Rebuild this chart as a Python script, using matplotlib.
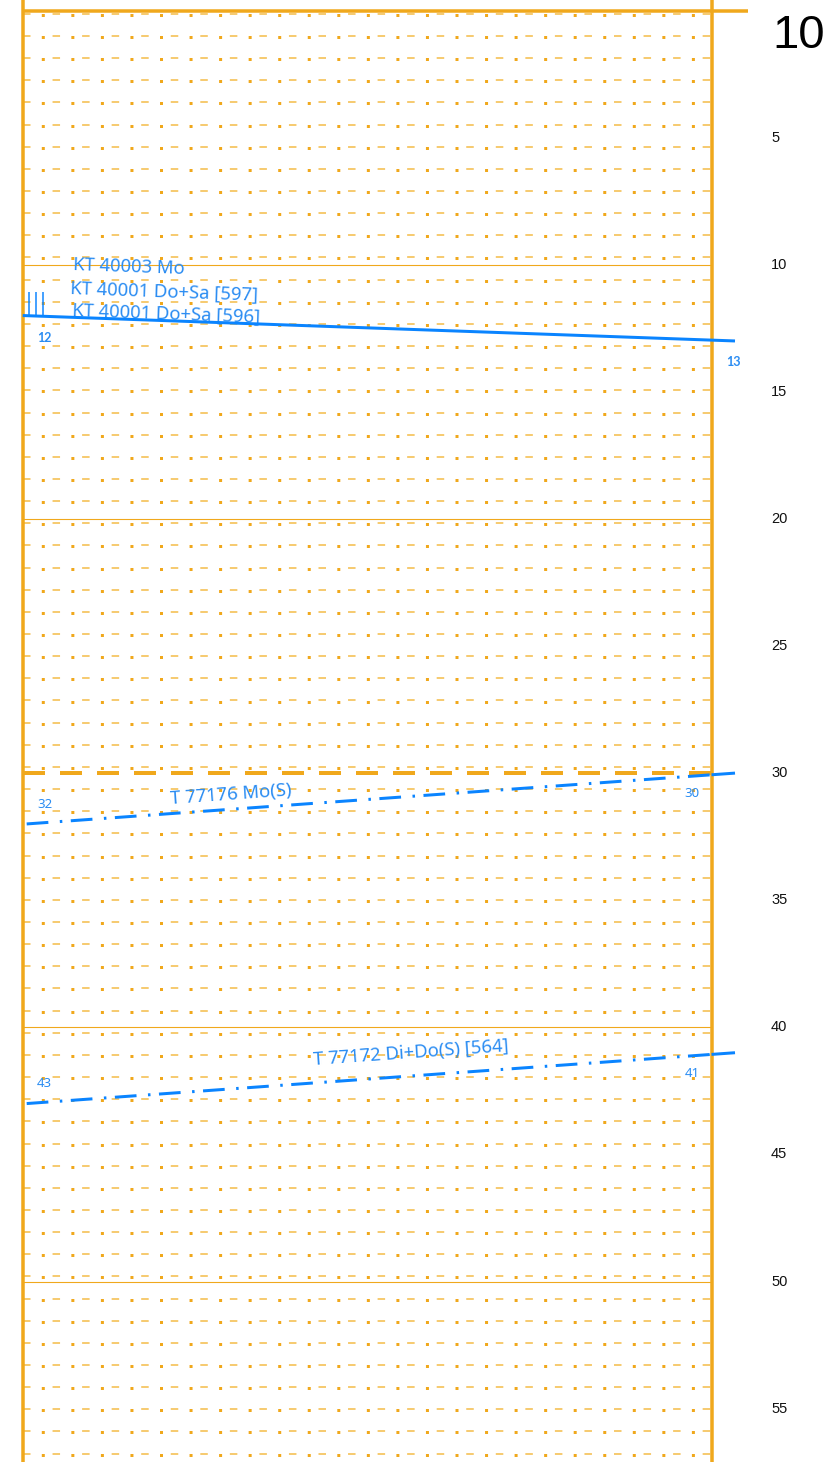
import numpy as np
import matplotlib.pyplot as plt

plt.rcParams['lines.scale_dashes'] = False

# --- data -------------------------------------------------------------
depth_ticks = [5, 10, 15, 20, 25, 30, 35, 40, 45, 50, 55]
scale_label = "10"
thin_bounds = [10, 20, 40, 50]
dashed_bounds = [30]

# pattern rows (lithology fill)
pattern_first = 0.13
pattern_step = 0.8714
pattern_last = 57.0

# contact lines: depth at left edge / right end
line_depth_left = [12, 32, 43]
line_depth_right = [13, 30, 41]
line_solid = [True, False, False]
left_labels = ["12", "32", "43"]
right_labels = ["13", "30", "41"]
line1_titles = ["KT 40003 Mo", "KT 40001 Do+Sa [597]", "KT 40001 Do+Sa [596]"]
line2_title = "T 77176 Mo(S)"
line3_title = "T 77172 Di+Do(S) [564]"

# --- layout -----------------------------------------------------------
W, H = 833, 1462
PX = 72 / 100.0           # points per pixel
x0_px, x1_px = 22.7, 711.5
px_per_x = x1_px - x0_px
y0_px, px_per_depth = 10.5, 25.42

ORANGE = '#F0A81C'
ORANGE_LIGHT = '#F5C25A'
BLUE = '#0A84FF'
BLUE_TXT = '#2A8CF2'
LABEL_FONT = ['Noto Sans', 'DejaVu Sans']
TITLE_SIZE = 13.3

fig = plt.figure(figsize=(W / 100, H / 100), dpi=100)
ax = fig.add_axes([0, 0, 1, 1])
ax.set_xlim(-x0_px / px_per_x, (W - x0_px) / px_per_x)
ax.set_ylim((H - y0_px) / px_per_depth, -y0_px / px_per_depth)
ax.axis('off')


def px_x(p):
    return p / px_per_x


def depth_at(i, x, x_start, x_stop):
    f = (x - x_start) / (x_stop - x_start)
    return line_depth_left[i] + f * (line_depth_right[i] - line_depth_left[i])


def angle_of(xa, da, xb, db):
    (ax_, ay_), (bx_, by_) = ax.transData.transform([(xa, da), (xb, db)])
    return np.degrees(np.arctan2(by_ - ay_, bx_ - ax_))


# fill pattern: dashes and dots
rows = np.arange(pattern_first, pattern_last, pattern_step)
ax.hlines(rows, 0, 1, colors=ORANGE_LIGHT, linewidth=1.7 * PX,
          linestyles=[(0, (7.5 * PX, 22.05 * PX))], zorder=1)
ax.hlines(rows + 0.04, 0, 1, colors=ORANGE, linewidth=3 * PX,
          linestyles=[(11.25 * PX, (3 * PX, 26.55 * PX))], zorder=1)

# boundaries
ax.hlines(thin_bounds, 0, 1, colors=ORANGE, linewidth=1.1 * PX, zorder=2)
ax.hlines(dashed_bounds, 0, 1, colors=ORANGE, linewidth=4 * PX,
          linestyles=[(0, (22 * PX, 15 * PX))], zorder=2)
ax.hlines([0], 0, px_x(748 - x0_px), colors=ORANGE, linewidth=3.5 * PX, zorder=3)
ax.axvline(0, color=ORANGE, linewidth=3.5 * PX, zorder=3)
ax.axvline(1, color=ORANGE, linewidth=3.5 * PX, zorder=3)

# depth scale
for d in depth_ticks:
    ax.text(px_x(771 - x0_px), d, str(d), fontsize=10.5, family='Liberation Sans',
            ha='left', va='center', color='#111111')
ax.text(px_x(772 - x0_px), 1.0, scale_label, fontsize=34, family='Liberation Sans',
        ha='left', va='center', color='black')

# contact lines
x_end = px_x(735 - x0_px)
x_dd = px_x(26.7 - x0_px)
for i in range(3):
    if line_solid[i]:
        ax.plot([0, x_end], [line_depth_left[i], line_depth_right[i]],
                color=BLUE, linewidth=3 * PX, solid_capstyle='butt', zorder=5)
    else:
        d_border = depth_at(i, 1.0, x_dd, x_end)
        ax.plot([x_dd, 1.0], [line_depth_left[i], d_border],
                color=BLUE, linewidth=3 * PX, dash_capstyle='butt', zorder=5,
                linestyle=(0, (21.7 * PX, 11.5 * PX, 2.5 * PX, 8.5 * PX)))
        ax.plot([1.0, x_end], [d_border, line_depth_right[i]],
                color=BLUE, linewidth=3 * PX, solid_capstyle='butt', zorder=5)

ang = [angle_of(0, line_depth_left[i], x_end, line_depth_right[i]) for i in range(3)]

# line 1 labels
ax.text(px_x(37 - x0_px), 12.88, left_labels[0], fontsize=9, fontweight='bold',
        family='Lato', color=BLUE_TXT, ha='left', va='center')
ax.text(px_x(726 - x0_px), 13.82, right_labels[0], fontsize=9, fontweight='bold',
        family='Lato', color=BLUE_TXT, ha='left', va='center')
for t, d, xp in zip(line1_titles, [10.03, 10.94, 11.82], [73, 70, 72]):
    ax.text(px_x(xp - x0_px), d, t, fontsize=TITLE_SIZE, family=LABEL_FONT,
            color=BLUE_TXT, ha='left', va='center', rotation=ang[0],
            rotation_mode='anchor')
ax.vlines([px_x(28.5 - x0_px), px_x(35.7 - x0_px), px_x(42.7 - x0_px)],
          11.06, 11.98, colors=BLUE, linewidth=1.5 * PX, zorder=5)

# line 2 labels
ax.text(px_x(37 - x0_px), 31.25, left_labels[1], fontsize=9.5, family=LABEL_FONT,
        color=BLUE_TXT, ha='left', va='center')
ax.text(px_x(684 - x0_px), 30.8, right_labels[1], fontsize=9.5, family=LABEL_FONT,
        color=BLUE_TXT, ha='left', va='center')
ax.text(px_x(231 - x0_px), 30.85, line2_title, fontsize=TITLE_SIZE, family=LABEL_FONT,
        color=BLUE_TXT, ha='center', va='center', rotation=ang[1],
        rotation_mode='anchor')

# line 3 labels
ax.text(px_x(37 - x0_px), 42.2, left_labels[2], fontsize=9.5, family=LABEL_FONT,
        color=BLUE_TXT, ha='left', va='center')
ax.text(px_x(685 - x0_px), 41.8, right_labels[2], fontsize=9.5, family=LABEL_FONT,
        color=BLUE_TXT, ha='left', va='center')
ax.text(px_x(411 - x0_px), 41.0, line3_title, fontsize=TITLE_SIZE, family=LABEL_FONT,
        color=BLUE_TXT, ha='center', va='center', rotation=ang[2],
        rotation_mode='anchor')

fig.savefig('out.png', dpi=100)
